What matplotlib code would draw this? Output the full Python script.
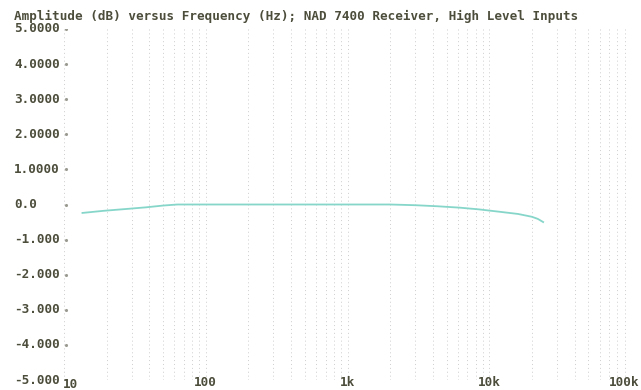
import matplotlib
matplotlib.use("Agg")
import matplotlib.pyplot as plt
import matplotlib.transforms as mtransforms
import numpy as np

# ---- data ----
freq_hz = [13.5, 19, 29, 38, 50, 63, 100, 200, 500, 1000, 2000, 3000, 4300,
           6200, 8500, 12000, 16000, 20000, 22000, 24000]
amp_db = [-0.24, -0.18, -0.12, -0.08, -0.03, 0.0, 0.0, 0.0, 0.0, 0.0, 0.0,
          -0.02, -0.05, -0.09, -0.14, -0.21, -0.27, -0.35, -0.41, -0.50]

y_ticks = [5, 4, 3, 2, 1, 0, -1, -2, -3, -4, -5]
y_labels = ["5.0000", "4.0000", "3.0000", "2.0000", "1.0000", "0.0",
            "-1.000", "-2.000", "-3.000", "-4.000", "-5.000"]
x_ticks = [10, 100, 1000, 10000, 100000]
x_labels = ["10", "100", "1k", "10k", "100k"]
title = "Amplitude (dB) versus Frequency (Hz); NAD 7400 Receiver, High Level Inputs"

W, H = 641, 390
fig = plt.figure(figsize=(W / 100, H / 100), dpi=100)
fig.patch.set_facecolor("white")
ax = fig.add_axes([64 / W, (H - 380) / H, (631 - 64) / W, (380 - 29) / H])
ax.set_xscale("log")
ax.set_xlim(10, 100000)
ax.set_ylim(-5, 5)
for s in ax.spines.values():
    s.set_visible(False)
ax.set_xticks([])
ax.set_yticks([])
ax.minorticks_off()

txt_col = "#4d4d3c"
font = dict(family="DejaVu Sans Mono", weight="bold", color=txt_col, fontsize=9.1)

# faint dotted vertical grid at log positions
grid_f = [m * 10 ** e for e in range(1, 5) for m in range(1, 10)] + [100000]
for g in grid_f:
    ax.axvline(g, color="#cdcdcd", lw=0.7, ls=(0, (1, 3)), zorder=1)

# y tick dots
ax.scatter([10.3] * len(y_ticks), y_ticks, s=1.5, color="#9a9a90", zorder=2)

# curve
ax.plot(freq_hz, amp_db, color="#86d6ca", lw=1.3, zorder=3)

# y labels (left aligned at fixed figure x)
tr = mtransforms.blended_transform_factory(fig.transFigure, ax.transData)
for v, lab in zip(y_ticks, y_labels):
    ax.text(14 / W, v, lab, transform=tr, ha="left", va="center", **font)

# x labels
trx = mtransforms.blended_transform_factory(ax.transData, ax.transAxes)
ax.text(63 / W, 1 - 384 / H, x_labels[0], transform=fig.transFigure,
        ha="left", va="center", **font)
for v, lab in zip(x_ticks[1:-1], x_labels[1:-1]):
    ax.text(v, -0.008, lab, transform=trx, ha="center", va="center",
            clip_on=False, **font)
ax.text(639 / W, 1 - 383 / H, x_labels[-1], transform=fig.transFigure,
        ha="right", va="center", **font)

fig.text(14 / W, 1 - 16 / H, title, ha="left", va="center", **font)

fig.savefig("out.png", dpi=100, facecolor="white")
